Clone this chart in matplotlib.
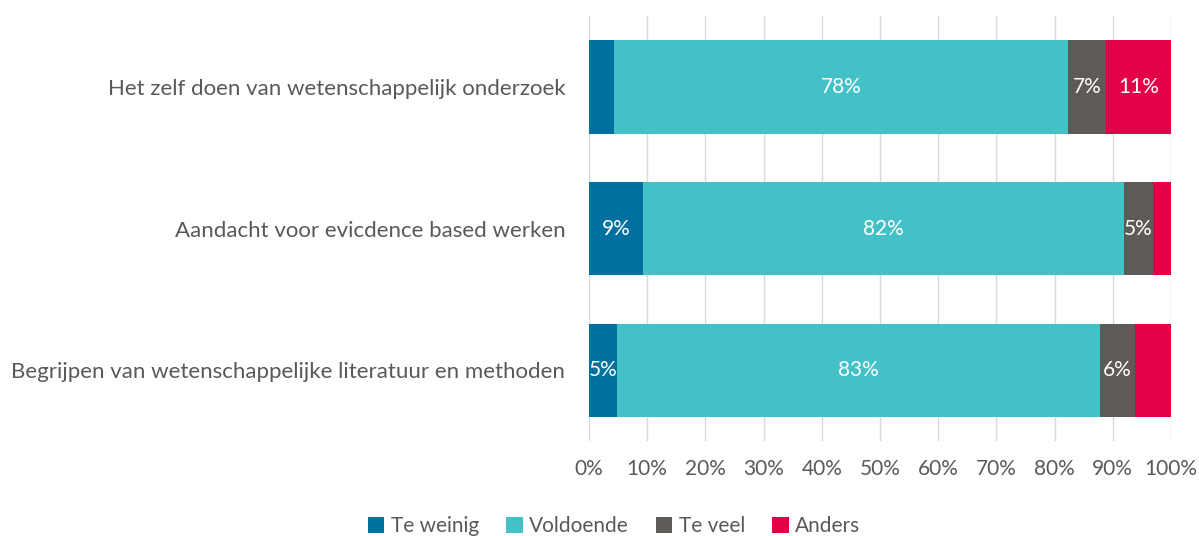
import matplotlib.pyplot as plt
import numpy as np

plt.rcParams['font.family'] = ['Lato', 'DejaVu Sans']

categories = ["Het zelf doen van wetenschappelijk onderzoek",
              "Aandacht voor evicdence based werken",
              "Begrijpen van wetenschappelijke literatuur en methoden"]
series = ["Te weinig", "Voldoende", "Te veel", "Anders"]
te_weinig = [4.3, 9.3, 4.9]
voldoende = [78.0, 82.6, 82.9]
te_veel = [6.6, 5.0, 6.1]
anders = [11.1, 3.1, 6.1]
# labels as shown in the chart (small segments have none)
lab_te_weinig = ["", "9%", "5%"]
lab_voldoende = ["78%", "82%", "83%"]
lab_te_veel = ["7%", "5%", "6%"]
lab_anders = ["11%", "", ""]

colors = ["#00719E", "#43C1C7", "#5E5A57", "#E40046"]
grey = "#595959"

fig = plt.figure(figsize=(11.99, 5.36), dpi=100)
ax = fig.add_axes([0.4912, 0.177, 0.4854, 0.793])

y = np.arange(len(categories))
left = np.zeros(len(categories))
for vals, labs, name, c in zip([te_weinig, voldoende, te_veel, anders],
                               [lab_te_weinig, lab_voldoende, lab_te_veel, lab_anders],
                               series, colors):
    bars = ax.barh(y, vals, left=left, height=0.66, color=c, label=name, zorder=3)
    ax.bar_label(bars, labels=labs, label_type='center', color='white', fontsize=15)
    left += np.array(vals)

ax.set_xlim(0, 100)
ax.set_ylim(2.5, -0.5)
ax.set_yticks(y)
ax.set_yticklabels(categories, fontsize=16, color=grey)
ax.set_xticks(np.arange(0, 101, 10))
ax.set_xticklabels([f"{v}%" for v in range(0, 101, 10)], fontsize=15, color=grey)
ax.tick_params(axis='y', length=0, pad=17)
ax.tick_params(axis='x', length=0, pad=13)
ax.grid(axis='x', color='#D9D9D9', linewidth=1, zorder=0)
for s in ax.spines.values():
    s.set_visible(False)

fig.legend(loc='lower center', bbox_to_anchor=(0.512, -0.035), ncol=4, frameon=False,
           fontsize=15, labelcolor=grey, handlelength=0.8, handleheight=0.8,
           handletextpad=0.3, columnspacing=1.3)

fig.savefig("out.png", dpi=100)
